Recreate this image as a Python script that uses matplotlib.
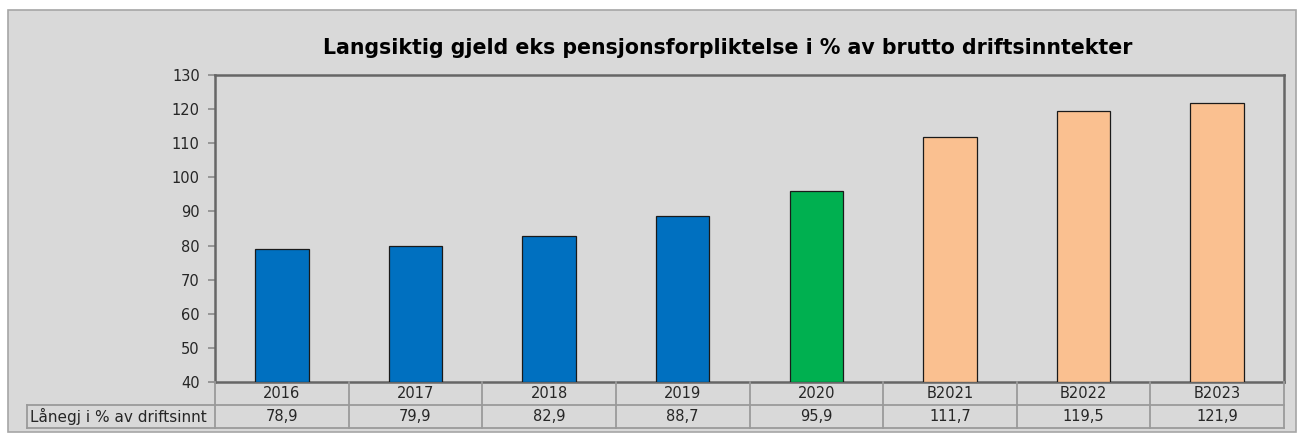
#!/usr/bin/env python3
# -*- coding: utf-8 -*-
"""Langsiktig gjeld eks pensjonsforpliktelse, bar chart with data table."""
import matplotlib
matplotlib.use("Agg")
import matplotlib.pyplot as plt
from matplotlib.patches import Rectangle
from matplotlib.lines import Line2D

categories = ["2016", "2017", "2018", "2019", "2020", "B2021", "B2022", "B2023"]
values = [78.9, 79.9, 82.9, 88.7, 95.9, 111.7, 119.5, 121.9]
value_labels = ["78,9", "79,9", "82,9", "88,7", "95,9", "111,7", "119,5", "121,9"]
row_label = "Lånegj i % av driftsinnt"
title = "Langsiktig gjeld eks pensjonsforpliktelse i % av brutto driftsinntekter"
bar_colors = ["#0070c0"] * 4 + ["#00b050"] + ["#fac090"] * 3

W, H = 1305, 441
BG = "#d9d9d9"
plt.rcParams["font.family"] = ["DejaVu Sans"]

fig = plt.figure(figsize=(W / 100, H / 100), dpi=100, facecolor="white")

# outer chart frame
fig.add_artist(Rectangle((8 / W, 1 - 432 / H), 1288 / W, 422 / H,
                         transform=fig.transFigure, facecolor=BG,
                         edgecolor="#a6a6a6", lw=1.2, zorder=0))

# plot area in pixels
x0, x1, y_top, y_bot = 215, 1284, 75, 382
ax = fig.add_axes([x0 / W, 1 - y_bot / H, (x1 - x0) / W, (y_bot - y_top) / H])
ax.set_facecolor(BG)

xs = range(len(categories))
ax.bar(xs, [v - 40 for v in values], bottom=40, width=0.4,
       color=bar_colors, edgecolor="#1a1a1a", lw=0.9, zorder=3)
ax.set_xlim(-0.5, len(categories) - 0.5)
ax.set_ylim(40, 130)
ax.set_yticks(range(40, 131, 10))
ax.tick_params(axis="y", length=5, width=1.2, color="#8c8c8c",
               labelsize=10.5, labelcolor="#262626", pad=6)
ax.set_xticks([])
for side in ["left", "top", "right", "bottom"]:
    ax.spines[side].set_color("#666666")
    ax.spines[side].set_linewidth(1.8)

fig.text(728 / W, 1 - 48 / H, title, ha="center", va="center",
         fontsize=14.8, fontweight="bold", color="black")


# data table below the axes, drawn in figure pixels
def fx(px):
    return px / W


def fy(py):
    return 1 - py / H


grid = dict(color="#9a9a9a", lw=1.3, transform=fig.transFigure)
r0, r1, r2 = 382, 405, 428
col_w = (x1 - x0) / len(categories)
lab_left = 27
fig.add_artist(Line2D([fx(lab_left), fx(x1)], [fy(r1), fy(r1)], **grid))
fig.add_artist(Line2D([fx(lab_left), fx(x1)], [fy(r2), fy(r2)], **grid))
fig.add_artist(Line2D([fx(lab_left), fx(lab_left)], [fy(r1), fy(r2)], **grid))
for i in range(len(categories) + 1):
    xc = x0 + i * col_w
    fig.add_artist(Line2D([fx(xc), fx(xc)], [fy(r0), fy(r2)], **grid))

for i, (cat, lab) in enumerate(zip(categories, value_labels)):
    xc = x0 + (i + 0.5) * col_w
    fig.text(fx(xc), fy((r0 + r1) / 2), cat, ha="center", va="center",
             fontsize=10.5, color="#262626")
    fig.text(fx(xc), fy((r1 + r2) / 2), lab, ha="center", va="center",
             fontsize=10.5, color="#262626")
fig.text(fx(lab_left + 3), fy((r1 + r2) / 2), row_label, ha="left",
         va="center", fontsize=11, color="#262626")

fig.savefig("out.png", dpi=100, facecolor="white")
